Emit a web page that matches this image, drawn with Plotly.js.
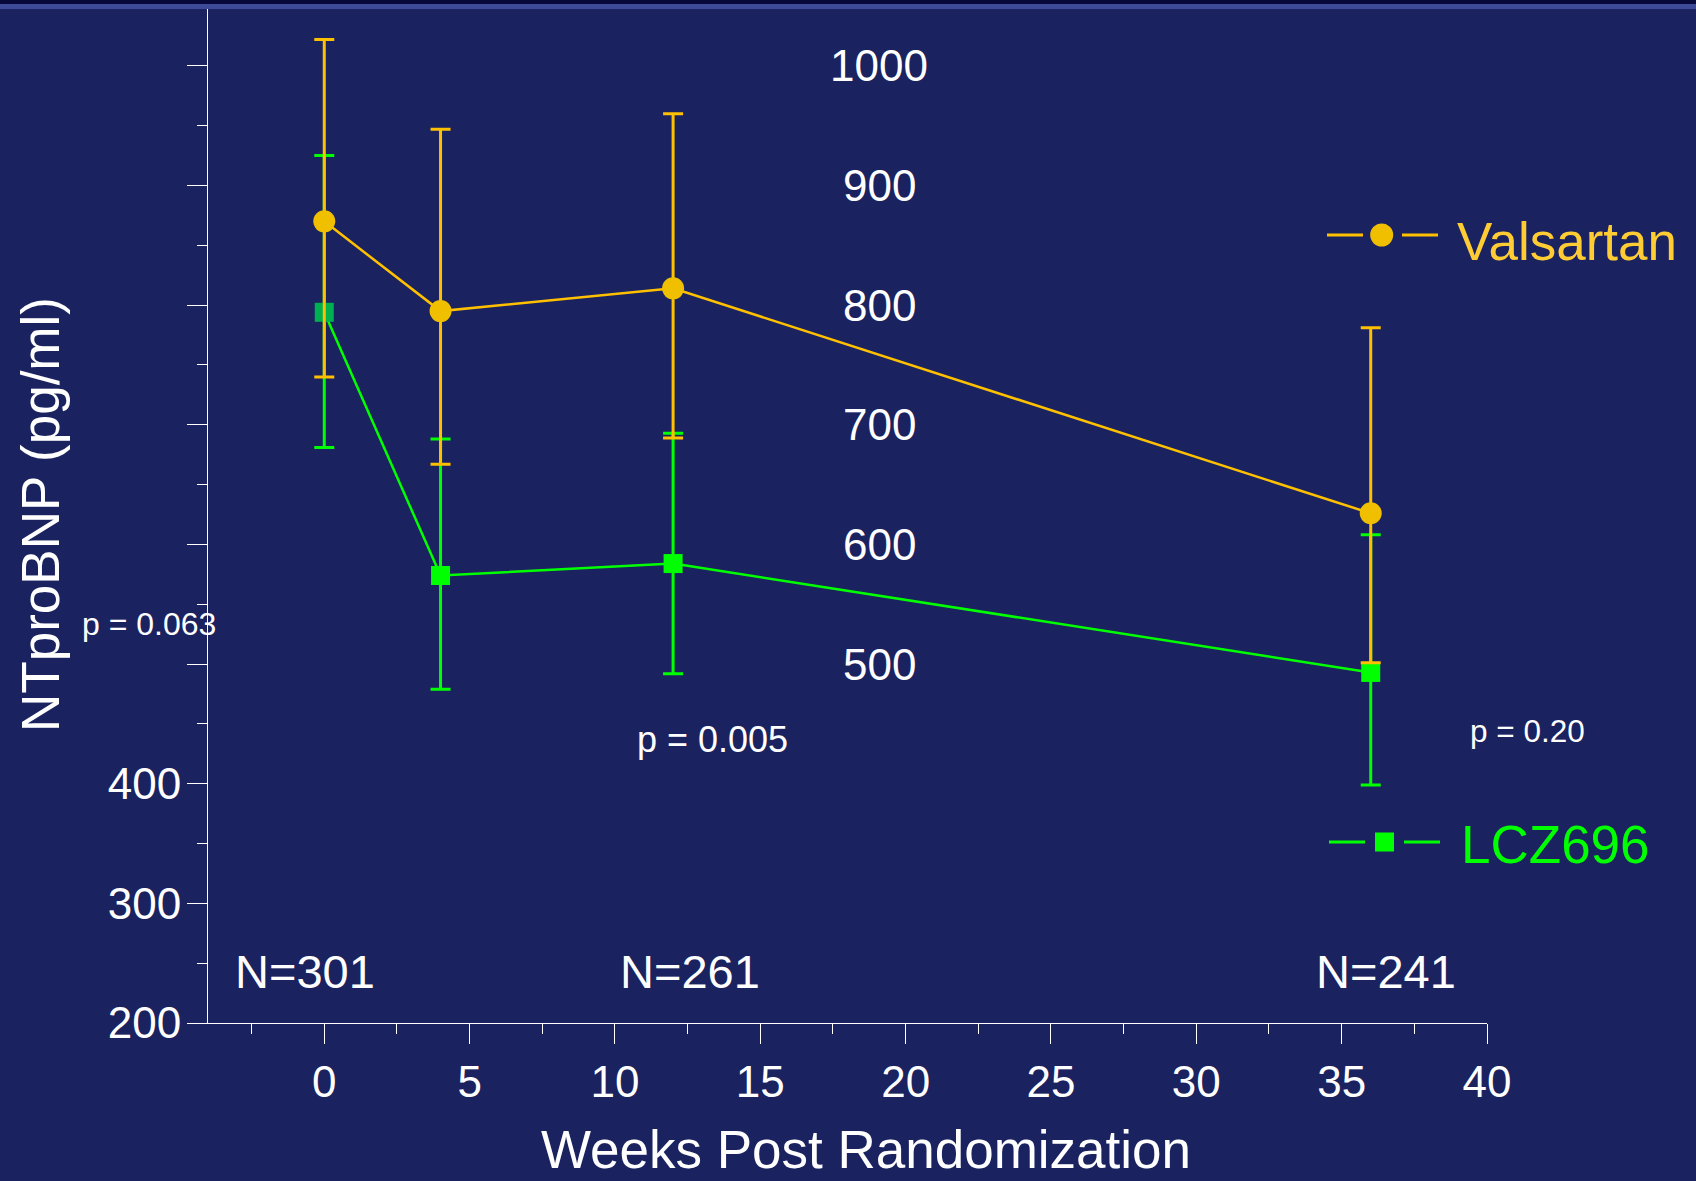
<!DOCTYPE html>
<html>
<head>
<meta charset="utf-8">
<script src="https://cdn.plot.ly/plotly-3.0.1.min.js"></script>
<style>
  html, body { margin: 0; padding: 0; background: #1a2260; }
  #chart { width: 1696px; height: 1181px; }
</style>
</head>
<body>
<div id="chart"></div>
<script>
// ---------------- data ----------------
const weeks = [0, 4, 12, 36];

const valsartanName = 'Valsartan';
const valsartanMean  = [870, 795, 814, 626];
const valsartanUpper = [1022, 947, 960, 781];
const valsartanLower = [740, 667, 689, 501];

const lczName = 'LCZ696';
const lczMean  = [794, 574, 584, 493];
const lczUpper = [925, 688, 693, 608];
const lczLower = [681, 479, 492, 399];

const yTickVals = [200, 300, 400, 500, 600, 700, 800, 900, 1000];
const yLeftLabels = [200, 300, 400];          // drawn at the axis
const yInnerLabels = [500, 600, 700, 800, 900, 1000]; // drawn mid-chart

const nLabels = ['N=301', 'N=261', 'N=241'];
const pLabels = ['p = 0.063', 'p = 0.005', 'p = 0.20'];

const xTitle = 'Weeks Post Randomization';
const yTitle = 'NTproBNP (pg/ml)';

// ---------------- styling / layout helpers ----------------
const W = 1696, H = 1181;
const M = { l: 208, r: 209, t: 6, b: 158 };
const PW = W - M.l - M.r, PH = H - M.t - M.b;
const px = x => (x - M.l) / PW;          // pixel -> paper x
const py = y => (H - M.b - y) / PH;      // pixel -> paper y

const BG = '#1a2260';
const ORANGE = '#ffc000';
const ORANGE_MK = '#f0c000';
const GREEN = '#00ff00';
const FONT = 'Liberation Sans, Arial, sans-serif';

const diff = (a, b) => a.map((v, i) => v - b[i]);

const traceLcz = {
  x: weeks, y: lczMean, name: lczName, type: 'scatter', mode: 'lines+markers',
  line: { color: GREEN, width: 2.5 },
  marker: { symbol: 'square', size: 19, color: ['#00b050', GREEN, GREEN, GREEN] },
  error_y: { type: 'data', symmetric: false,
             array: diff(lczUpper, lczMean), arrayminus: diff(lczMean, lczLower),
             color: GREEN, thickness: 3, width: 10 },
  showlegend: false, hoverinfo: 'x+y'
};
const traceVal = {
  x: weeks, y: valsartanMean, name: valsartanName, type: 'scatter', mode: 'lines+markers',
  line: { color: ORANGE, width: 2.5 },
  marker: { symbol: 'circle', size: 22, color: ORANGE_MK },
  error_y: { type: 'data', symmetric: false,
             array: diff(valsartanUpper, valsartanMean), arrayminus: diff(valsartanMean, valsartanLower),
             color: ORANGE, thickness: 3, width: 10 },
  showlegend: false, hoverinfo: 'x+y'
};

const annotations = [];
// inner y labels (500..1000), centred mid-chart
yInnerLabels.forEach(v => annotations.push({
  text: String(v), xref: 'paper', yref: 'y', x: px(879), y: v,
  xanchor: 'center', yanchor: 'middle', showarrow: false,
  font: { family: FONT, size: 44, color: 'white' }
}));
// N labels
const nPos = [[305, 971], [689.5, 971], [1386, 971]];
nLabels.forEach((t, i) => annotations.push({
  text: t, xref: 'paper', yref: 'paper', x: px(nPos[i][0]), y: py(nPos[i][1]),
  xanchor: 'center', yanchor: 'middle', showarrow: false,
  font: { family: FONT, size: 47, color: 'white' }
}));
// p values
const pPos = [[148.7, 624, 32], [712, 739, 36], [1527, 731, 31.5]];
pLabels.forEach((t, i) => annotations.push({
  text: t, xref: 'paper', yref: 'paper', x: px(pPos[i][0]), y: py(pPos[i][1]),
  xanchor: 'center', yanchor: 'middle', showarrow: false,
  font: { family: FONT, size: pPos[i][2], color: 'white' }
}));
// x axis title (offset from the plot centre, as on the slide)
annotations.push({
  text: xTitle, xref: 'paper', yref: 'paper', x: px(866), y: py(1181),
  xanchor: 'center', yanchor: 'bottom', showarrow: false,
  font: { family: FONT, size: 53, color: 'white' }
});

// manual legend
const legendItems = [
  { name: valsartanName, color: ORANGE, mk: ORANGE_MK, txt: '#ffcc33', y: 235, segs: [[1327, 1363], [1402, 1438]], cx: 1381.7, type: 'circle', size: 23, tx: 1455, ty: 241 },
  { name: lczName, color: GREEN, mk: GREEN, txt: GREEN, y: 842, segs: [[1329, 1365], [1404, 1440]], cx: 1384.5, type: 'rect', size: 19, tx: 1459, ty: 844 }
];
const shapes = [];
legendItems.forEach(it => {
  it.segs.forEach(s => shapes.push({
    type: 'line', xref: 'paper', yref: 'paper',
    x0: px(s[0]), x1: px(s[1]), y0: py(it.y), y1: py(it.y),
    line: { color: it.color, width: 3 }
  }));
  const h = it.size / 2;
  shapes.push({
    type: it.type, xref: 'paper', yref: 'paper',
    x0: px(it.cx - h), x1: px(it.cx + h), y0: py(it.y + h), y1: py(it.y - h),
    fillcolor: it.mk, line: { width: 0 }
  });
  annotations.push({
    text: it.name, xref: 'paper', yref: 'paper', x: px(it.tx), y: py(it.ty),
    xanchor: 'left', yanchor: 'middle', showarrow: false,
    font: { family: FONT, size: 53, color: it.txt }
  });
});
// top slide stripe
shapes.push({ type: 'rect', xref: 'paper', yref: 'paper', layer: 'above',
  x0: px(0), x1: px(W), y0: py(9), y1: py(4), fillcolor: '#3d4a98', line: { width: 0 } });
shapes.push({ type: 'rect', xref: 'paper', yref: 'paper', layer: 'above',
  x0: px(0), x1: px(W), y0: py(4), y1: py(0), fillcolor: '#06083a', line: { width: 0 } });

const layout = {
  width: W, height: H,
  margin: M,
  paper_bgcolor: BG, plot_bgcolor: BG,
  font: { family: FONT, color: 'white' },
  showlegend: false,
  xaxis: {
    range: [-4, 40], tickmode: 'linear', tick0: 0, dtick: 5,
    showline: true, linecolor: 'white', linewidth: 1,
    ticks: 'outside', ticklen: 20, tickcolor: 'white', tickwidth: 1,
    minor: { ticks: 'outside', tick0: 0, dtick: 2.5, ticklen: 10, tickcolor: 'white', tickwidth: 1 },
    tickfont: { family: FONT, size: 44, color: 'white' },
    ticklabelstandoff: 0,
    showgrid: false, zeroline: false, automargin: false
  },
  yaxis: {
    range: [200, 1050], tickmode: 'array', tickvals: yTickVals,
    ticktext: yTickVals.map(v => yLeftLabels.includes(v) ? String(v) : ''),
    showline: true, linecolor: 'white', linewidth: 1,
    ticks: 'outside', ticklen: 20, tickcolor: 'white', tickwidth: 1,
    minor: { ticks: 'outside', tickmode: 'linear', tick0: 200, dtick: 50, ticklen: 10, tickcolor: 'white', tickwidth: 1 },
    tickfont: { family: FONT, size: 44, color: 'white' },
    ticklabelstandoff: -3,
    showgrid: false, zeroline: false, automargin: false,
    title: { text: yTitle, font: { family: FONT, size: 53, color: 'white' }, standoff: 31 }
  },
  annotations: annotations,
  shapes: shapes
};

Plotly.newPlot('chart', [traceLcz, traceVal], layout, { displayModeBar: false, staticPlot: true });
</script>
</body>
</html>
